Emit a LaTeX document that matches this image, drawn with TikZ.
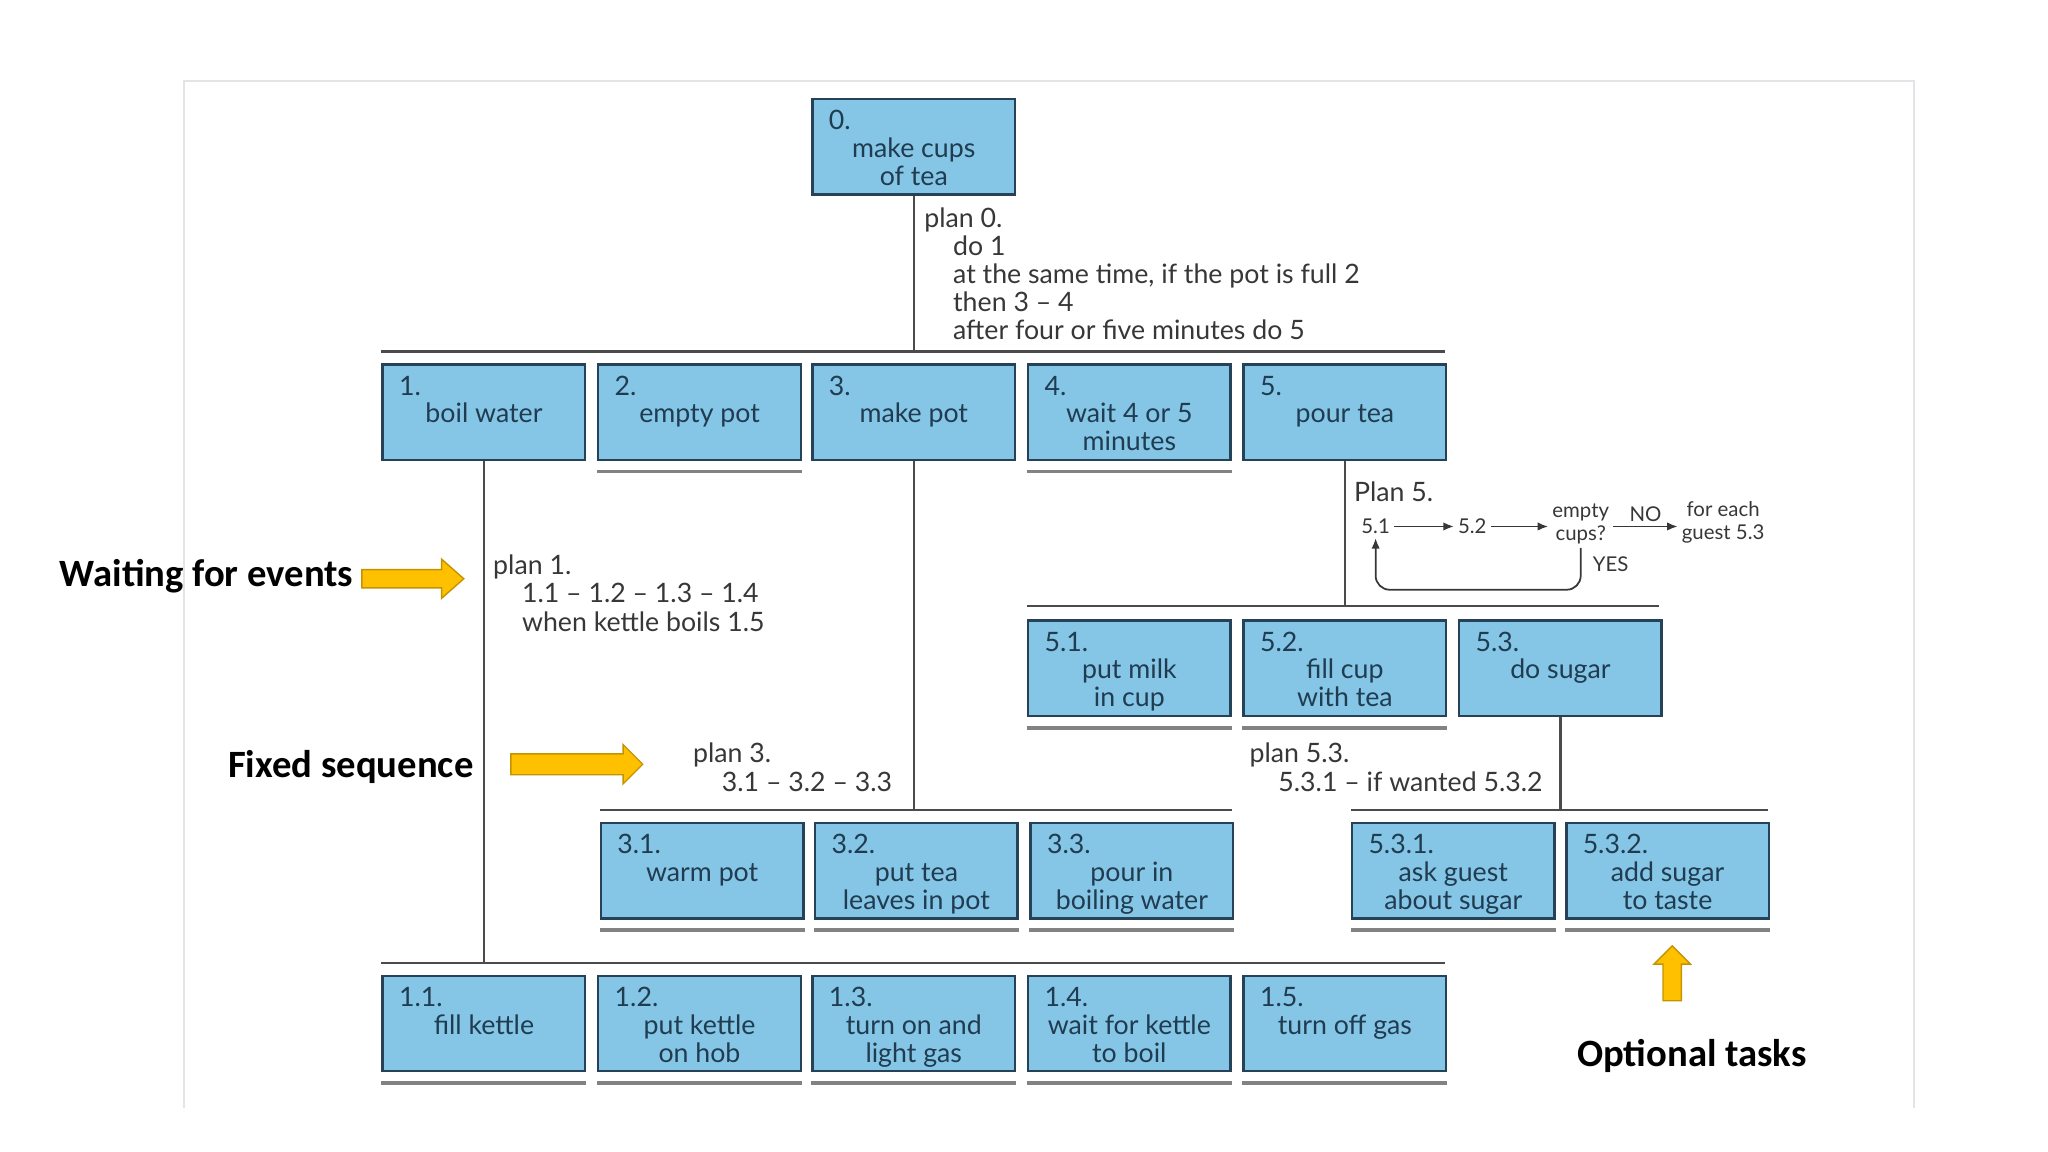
\documentclass[tikz,border=0pt]{standalone}
\usepackage{fontspec}
\setmainfont{Lato}
\newfontfamily\notefont{Carlito}
\usetikzlibrary{calc, arrows.meta}
\definecolor{boxfill}{RGB}{133, 197, 230}
\definecolor{boxline}{RGB}{38, 66, 88}
\definecolor{boxtext}{RGB}{32, 60, 80}
\definecolor{plantext}{RGB}{55, 55, 55}
\definecolor{treeline}{RGB}{75, 75, 75}
\definecolor{leafgray}{RGB}{130, 130, 130}
\definecolor{framegray}{RGB}{228, 228, 232}
\definecolor{hintgold}{RGB}{255, 192, 0}
\definecolor{hintedge}{RGB}{196, 148, 0}
\tikzset{
    taskbox/.style={draw=boxline, fill=boxfill, line width=0.7pt,
        minimum width=2.025cm, minimum height=0.954cm, inner sep=0pt,
        anchor=north west},
    tasktext/.style={text=boxtext, font=\fontsize{7.6}{8}\selectfont,
        inner sep=0pt, anchor=base},
    tasknum/.style={tasktext, anchor=base west},
    planline/.style={text=plantext, font=\fontsize{7.6}{8}\selectfont,
        inner sep=0pt, anchor=base west},
    flowtext/.style={text=plantext, font=\fontsize{5.8}{6.4}\selectfont,
        inner sep=1pt},
    tree/.style={draw=treeline, line width=0.7pt},
    leafline/.style={draw=leafgray, line width=1.1pt},
    flow/.style={draw=plantext, line width=0.5pt,
        -{Latex[length=3pt, width=2.4pt]}},
    note/.style={font=\notefont\bfseries\fontsize{11}{13}\selectfont,
        inner sep=0pt},
    hint/.style={fill=hintgold, draw=hintedge, line width=0.4pt},
}
% box with its number at top left and its text centred below
\newcommand{\task}[4]{%
    \node[taskbox] (#1) at (#2) {};
    \node[tasknum] at ($(#1.north west)+(13,24.5)$) {#3};
    \node[tasktext] at ($(#1.north)+(0,45.5)$)
        {\begin{tabular}[t]{@{}c@{}}#4\end{tabular}};
}
\newcommand{\leaf}[1]{%
    \draw[leafline] ($(#1.south west)+(0,8)$) -- ($(#1.south east)+(0,8)$);
}
\newcommand{\ind}{\hspace*{8.2pt}}
\newcommand{\plan}[2]{\begin{tabular}[t]{@{}l@{}}#1\\#2\end{tabular}}

\begin{document}
\begin{tikzpicture}[x=0.013064cm, y=-0.013064cm]
    \useasboundingbox (0, 0) rectangle (1567.7, 881.8);
    \draw[framegray] (141, 848) -- (141, 62) -- (1465, 62) -- (1465, 848);

    % tasks
    \task{t0}{621, 75}{0.}{make cups\\of tea}
    \task{t1}{292, 278}{1.}{boil water}
    \task{t2}{457, 278}{2.}{empty pot}
    \task{t3}{621, 278}{3.}{make pot}
    \task{t4}{786, 278}{4.}{wait 4 or 5\\minutes}
    \task{t5}{951, 278}{5.}{pour tea}
    \task{t51}{786, 474}{5.1.}{put milk\\in cup}
    \task{t52}{951, 474}{5.2.}{fill cup\\with tea}
    \task{t53}{1116, 474}{5.3.}{do sugar}
    \task{t31}{459, 629}{3.1.}{warm pot}
    \task{t32}{623, 629}{3.2.}{put tea\\leaves in pot}
    \task{t33}{788, 629}{3.3.}{pour in\\boiling water}
    \task{t531}{1034, 629}{5.3.1.}{ask guest\\about sugar}
    \task{t532}{1198, 629}{5.3.2.}{add sugar\\to taste}
    \task{t11}{292, 746}{1.1.}{fill kettle}
    \task{t12}{457, 746}{1.2.}{put kettle\\on hob}
    \task{t13}{621, 746}{1.3.}{turn on and\\light gas}
    \task{t14}{786, 746}{1.4.}{wait for kettle\\to boil}
    \task{t15}{951, 746}{1.5.}{turn off gas}

    \foreach \t in {t2, t4, t51, t52, t31, t32, t33, t531, t532,
        t11, t12, t13, t14, t15}
        {\leaf{\t}}

    % bars and links
    \coordinate (bar0w) at (292, 269);
    \coordinate (bar0e) at (1106, 269);
    \coordinate (bar1w) at (292, 737);
    \coordinate (bar1e) at (1106, 737);
    \coordinate (bar3w) at (459, 620);
    \coordinate (bar3e) at (943, 620);
    \coordinate (bar5w) at (786, 464);
    \coordinate (bar5e) at (1270, 464);
    \coordinate (bar53w) at (1034, 620);
    \coordinate (bar53e) at (1353, 620);
    \foreach \b in {bar0, bar1, bar3, bar5, bar53}
        {\draw[tree] (\b w) -- (\b e);}
    \draw[tree] (t0.south) -- (t0.south |- bar0w);
    \draw[tree] (t1.south) -- (t1.south |- bar1w);
    \draw[tree] (t3.south) -- (t3.south |- bar3w);
    \draw[tree] (t5.south) -- (t5.south |- bar5w);
    \draw[tree] (t53.south) -- (t53.south |- bar53w);

    % plans
    \node[planline] (plan0) at (707, 174) {\begin{tabular}[t]{@{}l@{}}
        plan 0.\\ \ind do 1\\
        \ind at the same time, if the pot is full 2\\
        \ind then 3 -- 4\\ \ind after four or five minutes do 5
        \end{tabular}};
    \node[planline] (plan1) at (377, 440) {\begin{tabular}[t]{@{}l@{}}
        plan 1.\\ \ind 1.1 -- 1.2 -- 1.3 -- 1.4\\
        \ind when kettle boils 1.5\end{tabular}};
    \node[planline] (plan3) at (530, 584) {\plan{plan 3.}{\ind 3.1 -- 3.2 -- 3.3}};
    \node[planline] (plan53) at (956, 584)
        {\plan{plan 5.3.}{\ind 5.3.1 -- if wanted 5.3.2}};
    \node[planline] (plan5) at (1036, 384) {Plan 5.};

    % plan 5 flow
    \node[flowtext] (f51) at (1053, 403) {5.1};
    \node[flowtext] (f52) at (1127, 403) {5.2};
    \node[flowtext, align=center] (fcup) at (1210, 401) {empty\\cups?};
    \node[flowtext, align=center] (fguest) at (1319, 400) {for each\\guest 5.3};
    \draw[flow] (f51) -- (f52);
    \draw[flow] (f52.east) -- (f52.east -| fcup.west);
    \draw[flow] (fcup.east |- f52.east) -- node[flowtext, above] (fno) {NO}
        (fguest.west |- f52.east);
    \draw[flow, rounded corners=4pt] (fcup.south) -- ++(0, 32) -| (f51.south);
    \node[flowtext, anchor=west] (fyes) at (1216, 432) {YES};

    % notes
    \node[note, anchor=east] (waitnote) at (271, 441) {Waiting for events};
    \node[note, anchor=east] (seqnote) at (363, 587) {Fixed sequence};
    \node[note] (optnote) at (1295, 808) {Optional tasks};
    \draw[hint] (277, 436) -- (338, 436) -- (338, 428) -- (355, 443)
        -- (338, 458) -- (338, 450) -- (277, 450) -- cycle;
    \draw[hint] (391, 577) -- (477, 577) -- (477, 570) -- (492, 585)
        -- (477, 600) -- (477, 593) -- (391, 593) -- cycle;
    \draw[hint] (1273, 766) -- (1273, 738) -- (1266, 738) -- (1280, 724)
        -- (1294, 738) -- (1287, 738) -- (1287, 766) -- cycle;
\end{tikzpicture}
\end{document}
